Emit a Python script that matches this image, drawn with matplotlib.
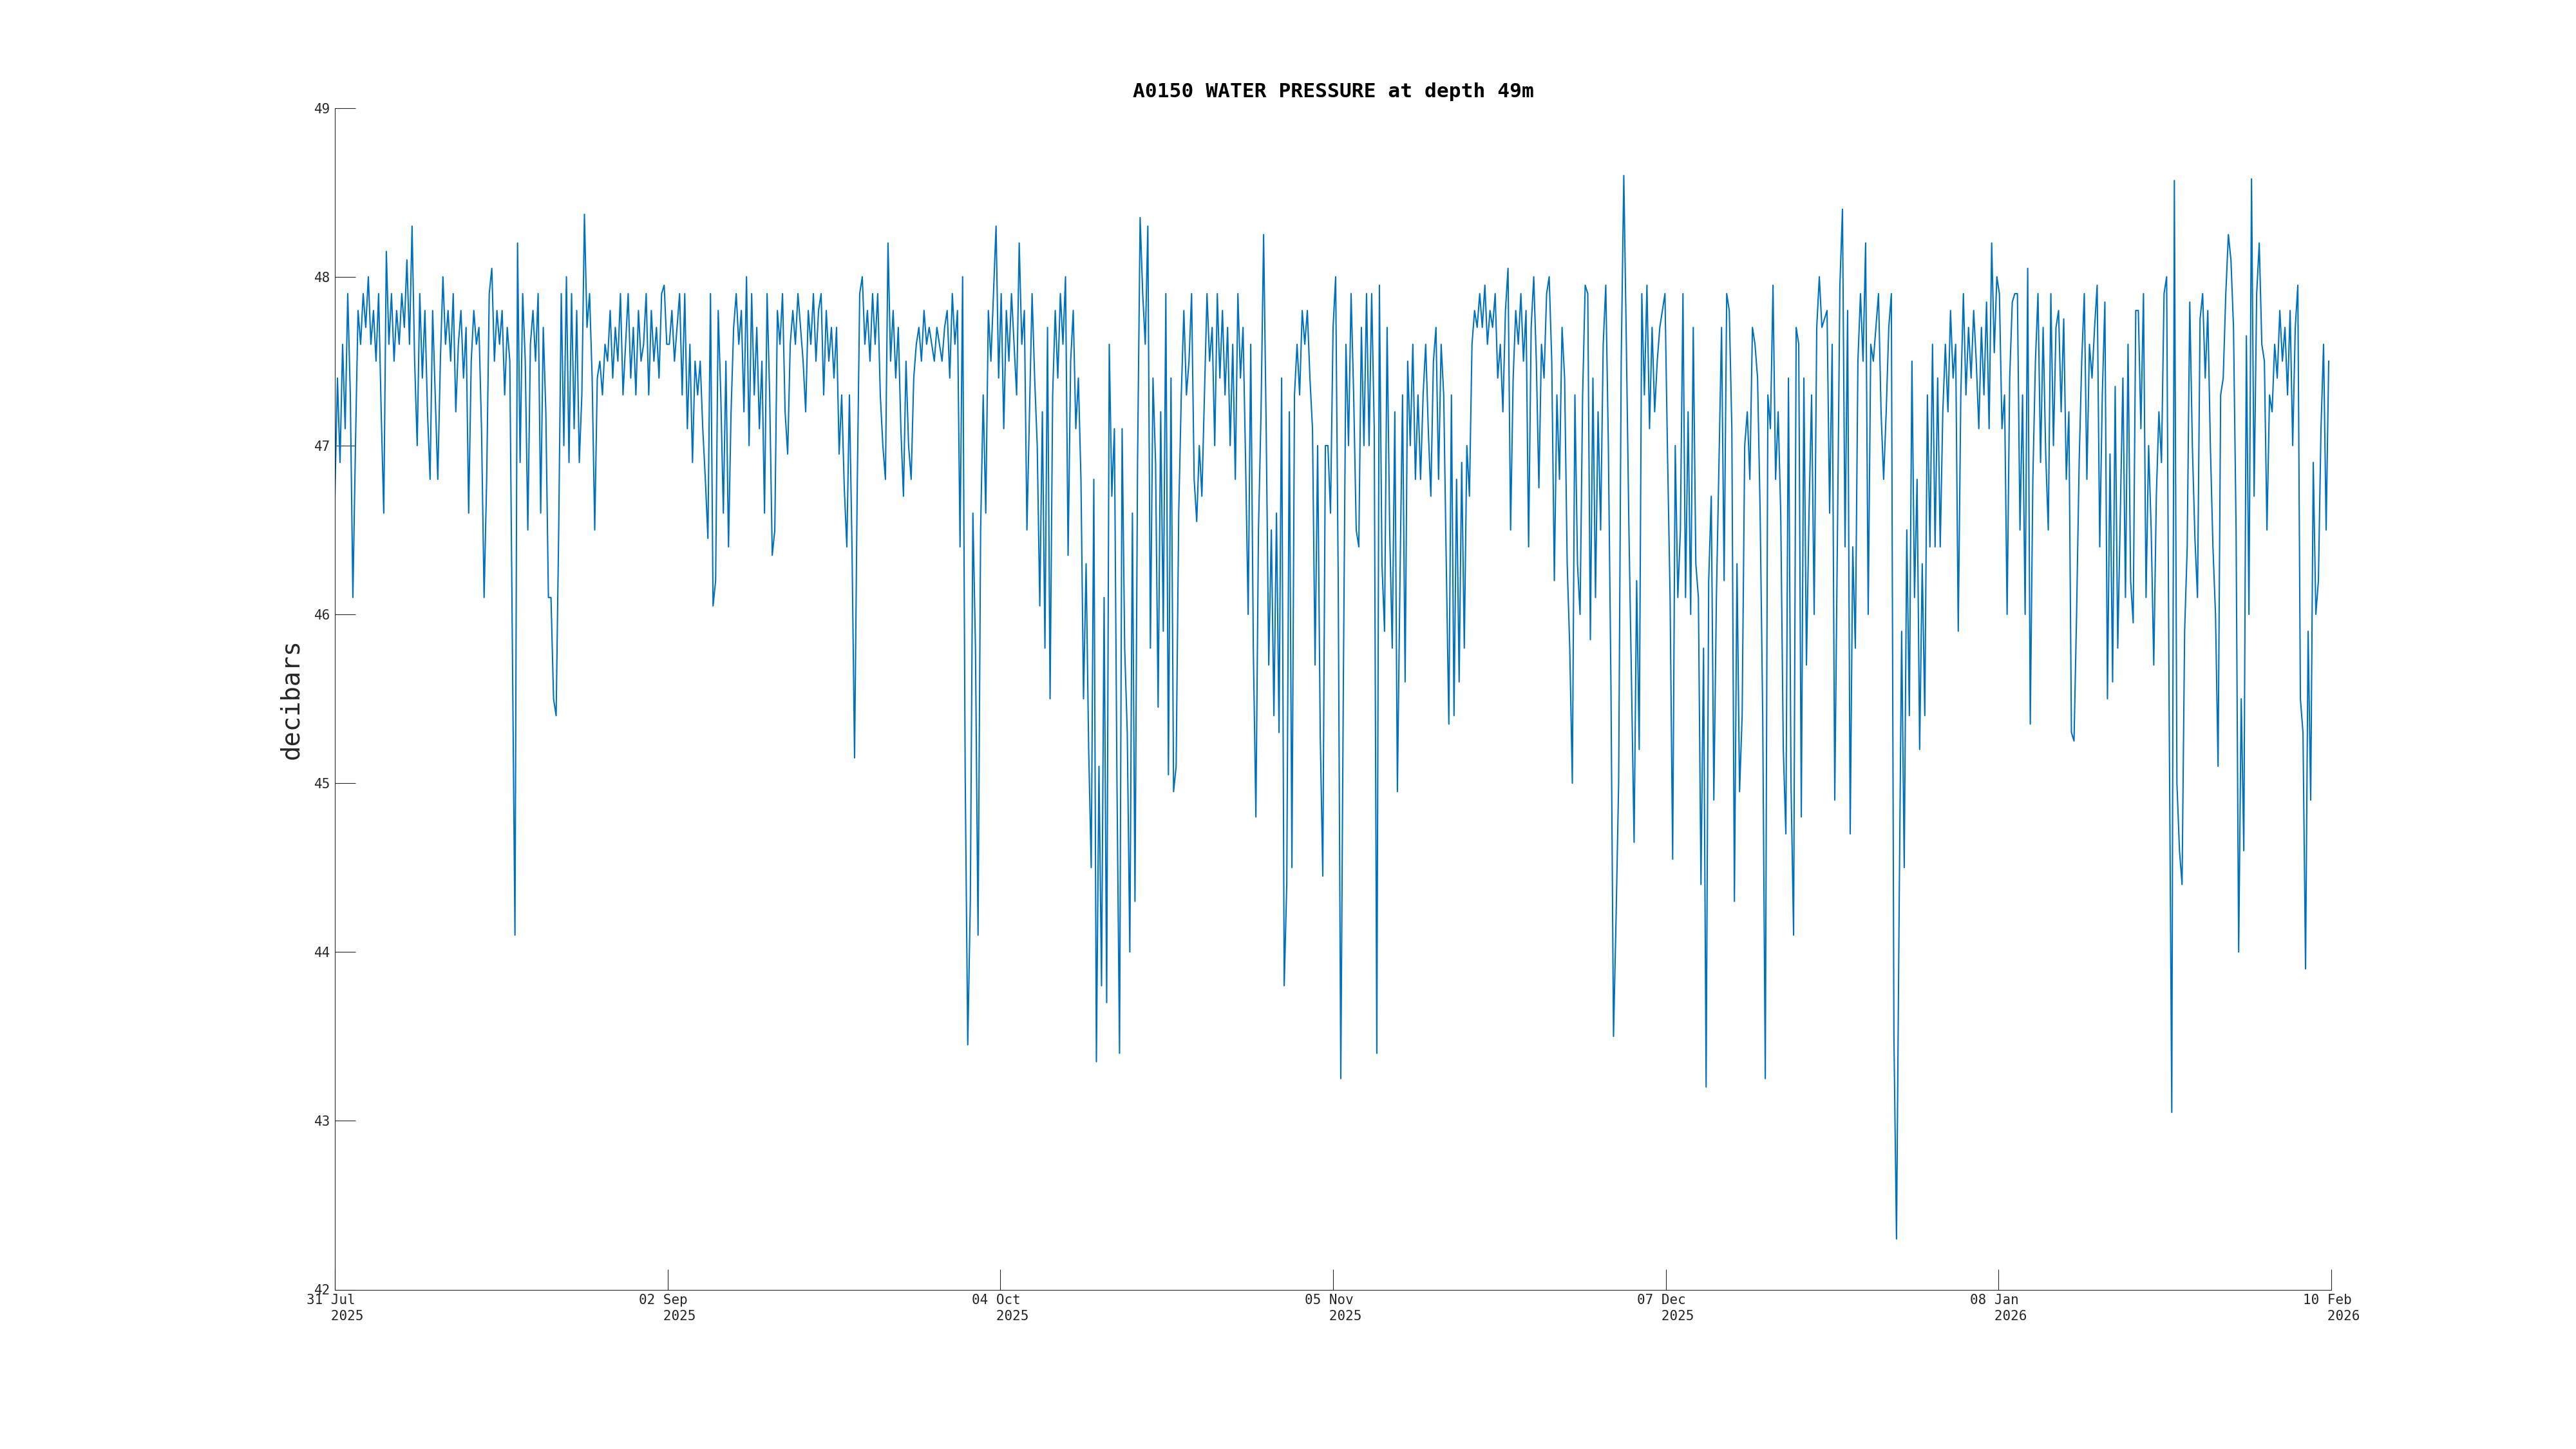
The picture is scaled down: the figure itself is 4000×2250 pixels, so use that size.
import matplotlib
matplotlib.use("Agg")
import matplotlib.pyplot as plt
import matplotlib.dates as mdates
import numpy as np
import pandas as pd

# 6-hourly pressure readings (decibars), grouped by tick interval
seg_aug = [46.7, 47.4, 46.9, 47.6, 47.1, 47.9, 47.3, 46.1, 47.0, 47.8, 47.6, 47.9,
           47.7, 48.0, 47.6, 47.8, 47.5, 47.9, 47.2, 46.6, 48.15, 47.6, 47.9, 47.5,
           47.8, 47.6, 47.9, 47.7, 48.1, 47.6, 48.3, 47.5, 47.0, 47.9, 47.4, 47.8,
           47.2, 46.8, 47.8, 47.3, 46.8, 47.5, 48.0, 47.6, 47.8, 47.5, 47.9, 47.2,
           47.6, 47.8, 47.4, 47.7, 46.6, 47.5, 47.8, 47.6, 47.7, 47.1, 46.1, 46.8,
           47.9, 48.05, 47.5, 47.8, 47.6, 47.8, 47.3, 47.7, 47.5, 45.8, 44.1, 48.2,
           46.9, 47.9, 47.5, 46.5, 47.6, 47.8, 47.5, 47.9, 46.6, 47.7, 47.2, 46.1,
           46.1, 45.5, 45.4, 46.5, 47.9, 47.0, 48.0, 46.9, 47.9, 47.1, 47.8, 46.9,
           47.3, 48.37, 47.7, 47.9, 47.4, 46.5, 47.4, 47.5, 47.3, 47.6, 47.5, 47.8,
           47.4, 47.7, 47.5, 47.9, 47.3, 47.6, 47.9, 47.4, 47.7, 47.3, 47.8, 47.5,
           47.6, 47.9, 47.3, 47.8, 47.5, 47.7, 47.4, 47.9, 47.95, 47.6]

seg_sep = [47.6, 47.8, 47.5, 47.7, 47.9, 47.3, 47.9, 47.1, 47.6, 46.9, 47.5, 47.3,
           47.5, 47.1, 46.8, 46.45, 47.9, 46.05, 46.2, 47.8, 47.3, 46.6, 47.5, 46.4,
           47.2, 47.7, 47.9, 47.6, 47.8, 47.2, 48.0, 47.0, 47.9, 47.3, 47.7, 47.1,
           47.5, 46.6, 47.9, 47.3, 46.35, 46.5, 47.8, 47.6, 47.9, 47.2, 46.95, 47.6,
           47.8, 47.6, 47.9, 47.7, 47.5, 47.2, 47.8, 47.6, 47.9, 47.5, 47.8, 47.9,
           47.3, 47.8, 47.5, 47.7, 47.4, 47.7, 46.95, 47.3, 46.75, 46.4, 47.3, 46.4,
           45.15, 46.7, 47.9, 48.0, 47.6, 47.8, 47.5, 47.9, 47.6, 47.9, 47.3, 47.0,
           46.8, 48.2, 47.5, 47.8, 47.4, 47.7, 47.1, 46.7, 47.5, 47.0, 46.8, 47.4,
           47.6, 47.7, 47.5, 47.8, 47.6, 47.7, 47.6, 47.5, 47.7, 47.6, 47.5, 47.7,
           47.8, 47.4, 47.9, 47.6, 47.8, 46.4, 48.0, 45.05, 43.45, 44.3, 46.6, 45.8,
           44.1, 46.5, 47.3, 46.6, 47.8, 47.5, 47.9, 48.3]

seg_oct = [47.4, 47.9, 47.1, 47.8, 47.5, 47.9, 47.6, 47.3, 48.2, 47.6, 47.8, 46.5,
           47.2, 47.9, 47.4, 47.0, 46.05, 47.2, 45.8, 47.7, 45.5, 47.3, 47.8, 47.4,
           47.9, 47.6, 48.0, 46.35, 47.5, 47.8, 47.1, 47.4, 46.8, 45.5, 46.3, 45.2,
           44.5, 46.8, 43.35, 45.1, 43.8, 46.1, 43.7, 47.6, 46.7, 47.1, 45.0, 43.4,
           47.1, 45.8, 45.3, 44.0, 46.6, 44.3, 46.9, 48.35, 47.9, 47.6, 48.3, 45.8,
           47.4, 46.9, 45.45, 47.2, 45.9, 47.9, 45.05, 47.4, 44.95, 45.1, 46.6, 47.3,
           47.8, 47.3, 47.5, 47.9, 46.8, 46.55, 47.0, 46.7, 47.3, 47.9, 47.5, 47.7,
           47.0, 47.9, 47.4, 47.8, 47.3, 47.7, 47.0, 47.6, 46.8, 47.9, 47.4, 47.7,
           46.9, 46.0, 47.6, 45.8, 44.8, 46.5, 47.2, 48.25, 47.1, 45.7, 46.5, 45.4,
           46.6, 45.3, 47.4, 43.8, 44.4, 47.2, 44.5, 47.3, 47.6, 47.3, 47.8, 47.6,
           47.8, 47.4, 47.1, 45.7, 47.0, 45.3, 44.45, 47.0]

seg_nov = [47.0, 46.6, 47.7, 48.0, 46.2, 43.25, 45.6, 47.6, 47.0, 47.9, 47.3, 46.5,
           46.4, 47.7, 47.0, 47.9, 47.0, 47.9, 47.1, 43.4, 47.95, 46.3, 45.9, 47.7,
           46.5, 45.8, 47.2, 44.95, 46.2, 47.3, 45.6, 47.5, 47.0, 47.6, 46.8, 47.3,
           46.8, 47.3, 47.6, 47.1, 46.7, 47.5, 47.7, 46.8, 47.6, 47.3, 46.3, 45.35,
           47.3, 45.4, 46.8, 45.6, 46.9, 45.8, 47.0, 46.7, 47.6, 47.8, 47.7, 47.9,
           47.7, 47.95, 47.6, 47.8, 47.7, 47.9, 47.4, 47.6, 47.2, 47.8, 48.05, 46.5,
           47.4, 47.8, 47.6, 47.9, 47.5, 47.8, 46.4, 47.7, 48.0, 47.5, 46.75, 47.6,
           47.4, 47.9, 48.0, 47.5, 46.2, 47.3, 46.8, 47.7, 47.4, 46.3, 45.8, 45.0,
           47.3, 46.3, 46.0, 47.3, 47.95, 47.9, 45.85, 47.4, 46.1, 47.2, 46.5, 47.6,
           47.95, 47.0, 45.6, 43.5, 44.2, 45.0, 47.5, 48.6, 47.6, 46.5, 45.6, 44.65,
           46.2, 45.2, 47.9, 47.3, 47.95, 47.1, 47.7, 47.2]

seg_dec = [47.5, 47.7, 47.8, 47.9, 46.95, 46.1, 44.55, 47.0, 46.1, 46.5, 47.9, 46.1,
           47.2, 46.0, 47.7, 46.3, 46.1, 44.4, 45.8, 43.2, 46.2, 46.7, 44.9, 46.1,
           46.9, 47.7, 46.2, 47.9, 47.8, 47.1, 44.3, 46.3, 44.95, 45.4, 47.0, 47.2,
           46.8, 47.7, 47.6, 47.4, 46.6, 45.4, 43.25, 47.3, 47.1, 47.95, 46.8, 47.2,
           46.6, 45.2, 44.7, 47.4, 45.0, 44.1, 47.7, 47.6, 44.8, 47.4, 45.7, 46.6,
           47.3, 46.0, 47.7, 48.0, 47.7, 47.75, 47.8, 46.6, 47.6, 44.9, 46.4, 47.95,
           48.4, 46.4, 47.8, 44.7, 46.4, 45.8, 47.5, 47.9, 47.5, 48.2, 46.0, 47.6,
           47.5, 47.7, 47.9, 47.2, 46.8, 47.2, 47.7, 47.9, 43.5, 42.3, 44.2, 45.9,
           44.5, 46.5, 45.4, 47.5, 46.1, 46.8, 45.2, 46.3, 45.4, 47.3, 46.4, 47.6,
           46.4, 47.4, 46.4, 47.2, 47.6, 47.2, 47.8, 47.4, 47.6, 45.9, 47.3, 47.9,
           47.3, 47.7, 47.4, 47.8, 47.5, 47.1, 47.7, 47.3]

seg_jan = [47.85, 47.1, 48.2, 47.55, 48.0, 47.9, 47.1, 47.3, 46.0, 47.4, 47.85, 47.9,
           47.9, 46.5, 47.3, 46.0, 48.05, 45.35, 46.8, 47.5, 47.9, 46.9, 47.7, 46.95,
           46.5, 47.9, 47.0, 47.7, 47.8, 47.2, 47.75, 46.8, 47.2, 45.3, 45.25, 46.0,
           46.9, 47.5, 47.9, 46.8, 47.6, 47.4, 47.7, 47.95, 46.4, 47.3, 47.85, 45.5,
           46.95, 45.6, 47.35, 45.8, 46.6, 47.4, 46.1, 47.6, 46.2, 45.95, 47.8, 47.8,
           47.1, 47.9, 46.1, 47.0, 46.5, 45.7, 46.7, 47.2, 46.9, 47.9, 48.0, 45.4,
           43.05, 48.57, 45.0, 44.6, 44.4, 45.9, 46.4, 47.85, 47.0, 46.45, 46.1, 47.75,
           47.9, 47.4, 47.8, 47.0, 46.4, 46.0, 45.1, 47.3, 47.4, 47.9, 48.25, 48.1,
           47.7, 46.5, 44.0, 45.5, 44.6, 47.65, 46.0, 48.58, 46.7, 47.9, 48.2, 47.6,
           47.5, 46.5, 47.3, 47.2, 47.6, 47.4, 47.8, 47.5, 47.7, 47.3, 47.8, 47.0,
           47.7, 47.95, 45.5, 45.3, 43.9, 45.9, 44.9, 46.9, 46.0, 46.2, 47.1, 47.6,
           46.5, 47.5]

pressure = np.array(seg_aug + seg_sep + seg_oct + seg_nov + seg_dec + seg_jan)
times = pd.date_range("2025-07-31", periods=len(pressure), freq="6h")

x_start = pd.Timestamp("2025-07-31")
x_end = pd.Timestamp("2026-02-10")
x_tick_labels = ["31 Jul\n   2025", "02 Sep\n   2025", "04 Oct\n   2025",
                 "05 Nov\n   2025", "07 Dec\n   2025", "08 Jan\n   2026",
                 "10 Feb\n   2026"]
y_ticks = [42, 43, 44, 45, 46, 47, 48, 49]

mono = "DejaVu Sans Mono"
ink = "#262626"

fig = plt.figure(figsize=(40, 22.5), dpi=100)
ax = fig.add_axes([0.13, 0.11, 0.775, 0.8155])

ax.plot(times, pressure, color="#0072BD", lw=1.5)

x0, x1 = mdates.date2num(x_start), mdates.date2num(x_end)
ax.set_xlim(x0, x1)
ax.set_ylim(42, 49)
ax.set_xticks(np.linspace(x0, x1, len(x_tick_labels)))
ax.set_xticklabels(x_tick_labels, family=mono, fontsize=15, color=ink,
                   multialignment="left", linespacing=1.3)
ax.set_yticks(y_ticks)
ax.set_yticklabels([str(v) for v in y_ticks], family=mono, fontsize=15, color=ink)

for side in ["top", "right"]:
    ax.spines[side].set_visible(False)
for side in ["left", "bottom"]:
    ax.spines[side].set_color(ink)
    ax.spines[side].set_linewidth(0.8)
ax.tick_params(direction="in", length=23, width=0.8, color=ink, pad=5)

ax.set_title("A0150 WATER PRESSURE at depth 49m", family=mono, fontsize=22.5,
             fontweight="bold", pad=12)
ax.set_ylabel("decibars", family=mono, fontsize=28, color=ink, labelpad=12)

fig.savefig("out.png", dpi=100, facecolor="white")
